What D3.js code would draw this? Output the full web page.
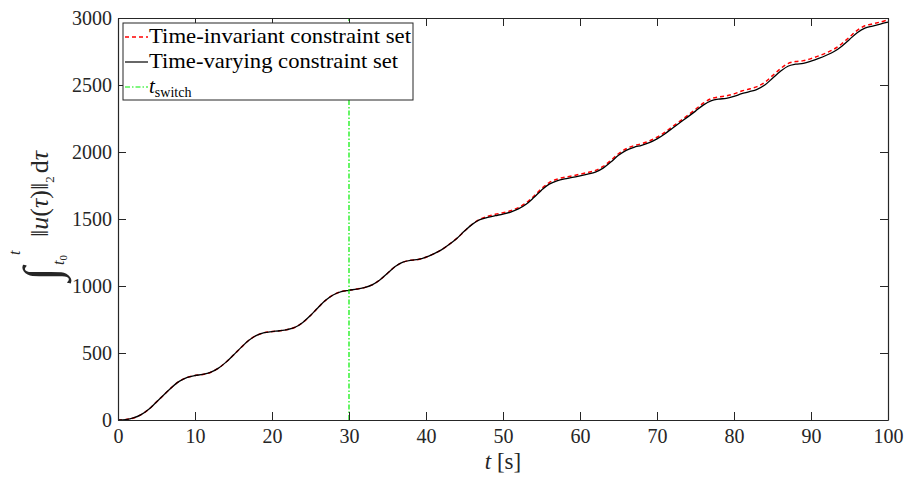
<!DOCTYPE html>
<html>
<head>
<meta charset="utf-8">
<script src="https://cdn.jsdelivr.net/npm/d3@7"></script>
<style>
  body { margin: 0; background: #fff; }
  text { font-family: "Liberation Serif", "DejaVu Serif", serif; }
</style>
</head>
<body>
<div id="chart"></div>
<script>
// sample times, seconds
var timeSec = d3.range(0, 101, 1);

// integral of ||u||_2, time-varying constraint set (black)
var varyingVals = [
  0, 3, 15, 40, 80, 135, 190, 245, 290, 318,
  332, 340, 355, 385, 430, 485, 542, 595, 632, 652,
  660, 666, 675, 692, 728, 780, 840, 895, 935, 958,
  968, 977, 988, 1008, 1045, 1095, 1145, 1178, 1192, 1198,
  1215, 1240, 1270, 1310, 1355, 1410, 1460, 1495, 1512, 1525,
  1537, 1552, 1575, 1610, 1660, 1715, 1760, 1785, 1800, 1810,
  1822, 1835, 1850, 1880, 1925, 1975, 2012, 2035, 2050, 2070,
  2098, 2135, 2178, 2220, 2262, 2305, 2350, 2382, 2395, 2400,
  2415, 2435, 2450, 2468, 2500, 2550, 2600, 2640, 2655, 2662,
  2678, 2698, 2722, 2750, 2790, 2840, 2890, 2925, 2940, 2955,
  2970
];

// time-invariant constraint set (red dashed)
var invariantVals = [
  0, 3, 15, 40, 80, 135, 190, 245, 290, 318,
  332, 340, 355, 385, 430, 485, 542, 595, 632, 652,
  660, 666, 675, 692, 728, 780, 840, 895, 935, 958,
  968, 977, 988, 1008, 1045, 1095, 1145, 1178, 1192, 1198,
  1215, 1240, 1270, 1310, 1355, 1410, 1461, 1498, 1520, 1535,
  1547, 1562, 1585, 1620, 1670, 1726, 1772, 1797, 1812, 1822,
  1834, 1847, 1862, 1892, 1937, 1987, 2024, 2047, 2062, 2082,
  2110, 2146, 2189, 2231, 2274, 2318, 2364, 2397, 2411, 2418,
  2434, 2455, 2470, 2488, 2520, 2570, 2620, 2660, 2675, 2682,
  2697, 2717, 2740, 2768, 2808, 2858, 2908, 2942, 2956, 2970,
  2985
];

var switchTime = 30;
var xTicks = [0, 10, 20, 30, 40, 50, 60, 70, 80, 90, 100];
var yTicks = [0, 500, 1000, 1500, 2000, 2500, 3000];

var svgWidth = 916, svgHeight = 479;
var margin = { top: 18, right: 28, bottom: 59, left: 118 };
var width = svgWidth - margin.left - margin.right;
var height = svgHeight - margin.top - margin.bottom;
var axisColor = "#262626";

var svg = d3.select("#chart").append("svg")
  .attr("width", svgWidth)
  .attr("height", svgHeight)
  .append("g")
  .attr("transform", "translate(" + margin.left + "," + margin.top + ")");

var x = d3.scaleLinear().domain([0, 100]).range([0, width]);
var y = d3.scaleLinear().domain([0, 3000]).range([height, 0]);

// curves
var line = d3.line()
  .x(function (d) { return x(d.t); })
  .y(function (d) { return y(d.v); })
  .curve(d3.curveCatmullRom);

var invariantData = timeSec.map(function (t, i) { return { t: t, v: invariantVals[i] }; });
var varyingData = timeSec.map(function (t, i) { return { t: t, v: varyingVals[i] }; });

svg.append("path")
  .datum(invariantData)
  .attr("d", line)
  .attr("fill", "none")
  .attr("stroke", "#ff0000")
  .attr("stroke-width", 1.5)
  .attr("stroke-dasharray", "4,3");

svg.append("path")
  .datum(varyingData)
  .attr("d", line)
  .attr("fill", "none")
  .attr("stroke", "#000")
  .attr("stroke-width", 1.3);

// switch line
svg.append("line")
  .attr("x1", x(switchTime)).attr("x2", x(switchTime))
  .attr("y1", y(0)).attr("y2", y(3000))
  .attr("stroke", "#00ee00")
  .attr("stroke-width", 1.2)
  .attr("stroke-dasharray", "5,2,1.5,2");

// axes, ticks pointing inward
function styleAxis(g) {
  g.selectAll(".domain").attr("stroke", axisColor).attr("stroke-width", 1.2);
  g.selectAll(".tick line").attr("stroke", axisColor).attr("stroke-width", 1);
  g.selectAll(".tick text")
    .attr("fill", "#262626")
    .style("font-family", "'Liberation Serif', serif")
    .style("font-size", "20px");
}

var fmt = d3.format("d");

svg.append("g")
  .attr("transform", "translate(0," + height + ")")
  .call(d3.axisBottom(x).tickValues(xTicks).tickFormat(fmt).tickSizeInner(-8).tickSizeOuter(0).tickPadding(9))
  .call(styleAxis);

svg.append("g")
  .call(d3.axisTop(x).tickValues(xTicks).tickSizeInner(-8).tickSizeOuter(0).tickFormat(""))
  .call(styleAxis);

svg.append("g")
  .call(d3.axisLeft(y).tickValues(yTicks).tickFormat(fmt).tickSizeInner(-8).tickSizeOuter(0).tickPadding(6))
  .call(styleAxis);

svg.append("g")
  .attr("transform", "translate(" + width + ",0)")
  .call(d3.axisRight(y).tickValues(yTicks).tickSizeInner(-8).tickSizeOuter(0).tickFormat(""))
  .call(styleAxis);

// x label
var xl = svg.append("text")
  .attr("x", width / 2)
  .attr("y", height + 49)
  .attr("text-anchor", "middle")
  .attr("fill", "#262626")
  .style("font-size", "23px");
xl.append("tspan").style("font-style", "italic").text("t");
xl.append("tspan").text(" [s]");

// y label: integral from t0 to t of ||u(tau)||_2 dtau, rotated
var yg = svg.append("g")
  .attr("transform", "translate(" + (48 - margin.left) + "," + (197 - margin.top) + ") rotate(-90)");

yg.append("text")
  .attr("x", -84).attr("y", 10)
  .attr("fill", "#262626")
  .style("font-size", "50px")
  .text("\u222B");
yg.append("text")
  .attr("x", -58).attr("y", -28)
  .attr("fill", "#262626")
  .style("font-size", "16px").style("font-style", "italic")
  .text("t");
var lo = yg.append("text")
  .attr("x", -68).attr("y", 16)
  .attr("fill", "#262626")
  .style("font-size", "16px");
lo.append("tspan").style("font-style", "italic").text("t");
lo.append("tspan").style("font-size", "11px").attr("dy", 3).text("0");

var main = yg.append("text")
  .attr("x", -40).attr("y", 0)
  .attr("fill", "#262626")
  .style("font-size", "26px");
main.append("tspan").text("\u2016");
main.append("tspan").style("font-style", "italic").text("u");
main.append("tspan").text("(");
main.append("tspan").style("font-style", "italic").text("\u03C4");
main.append("tspan").text(")\u2016");
main.append("tspan").style("font-size", "13px").attr("dy", 6).text("2");
main.append("tspan").attr("dx", 3).attr("dy", -6).text("d");
main.append("tspan").style("font-style", "italic").text("\u03C4");

// legend
var legend = svg.append("g").attr("transform", "translate(5,5)");
legend.append("rect")
  .attr("width", 290)
  .attr("height", 77)
  .attr("fill", "#fff")
  .attr("stroke", axisColor)
  .attr("stroke-width", 1);

var legendRows = [
  { label: "Time-invariant constraint set", color: "#ff0000", dash: "4,3", y: 14, len: 262 },
  { label: "Time-varying constraint set", color: "#000", dash: null, y: 39, len: 249 },
  { label: "switch", color: "#00ee00", dash: "5,2,1.5,2", y: 64, len: null }
];

legendRows.forEach(function (r, i) {
  legend.append("line")
    .attr("x1", 2).attr("x2", 25)
    .attr("y1", r.y).attr("y2", r.y)
    .attr("stroke", r.color)
    .attr("stroke-width", i === 0 ? 1.5 : 1.2)
    .attr("stroke-dasharray", r.dash);
  var t = legend.append("text")
    .attr("x", 26)
    .attr("y", r.y + 6)
    .attr("fill", "#000")
    .style("font-size", "21px");
  if (i < 2) {
    t.text(r.label)
      .attr("textLength", r.len)
      .attr("lengthAdjust", "spacingAndGlyphs");
  } else {
    t.append("tspan").style("font-style", "italic").text("t");
    t.append("tspan").style("font-size", "14px").attr("dy", 4).text(r.label);
  }
});
</script>
</body>
</html>
